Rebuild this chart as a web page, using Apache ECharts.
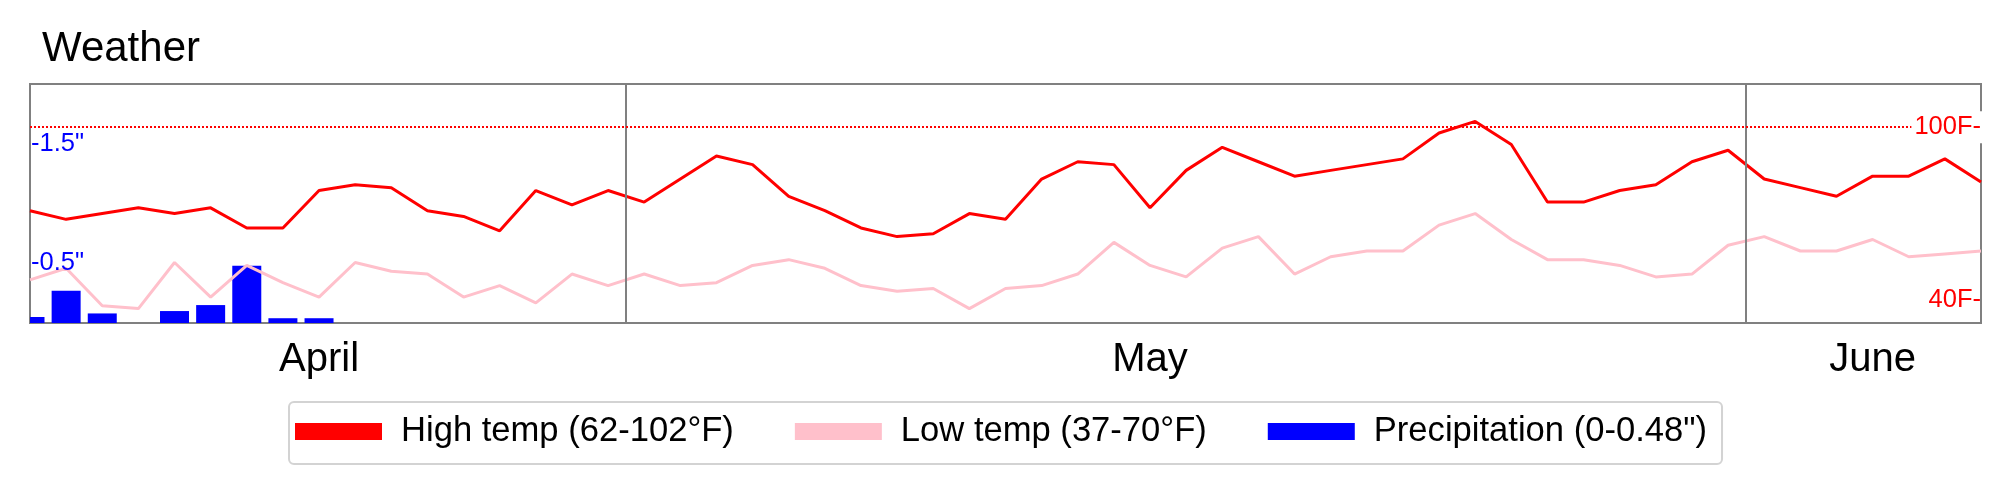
<!DOCTYPE html>
<html>
<head>
<meta charset="utf-8">
<script src="https://cdn.jsdelivr.net/npm/echarts@6/dist/echarts.min.js"></script>
<style>
  html, body { margin: 0; padding: 0; background: #fff; }
  #chart { width: 2010px; height: 492px; }
</style>
</head>
<body>
<div id="chart"></div>
<script>
// ---- Data ----
const days = [
  '04-14','04-15','04-16','04-17','04-18','04-19','04-20','04-21','04-22','04-23',
  '04-24','04-25','04-26','04-27','04-28','04-29','04-30',
  '05-01','05-02','05-03','05-04','05-05','05-06','05-07','05-08','05-09','05-10',
  '05-11','05-12','05-13','05-14','05-15','05-16','05-17','05-18','05-19','05-20',
  '05-21','05-22','05-23','05-24','05-25','05-26','05-27','05-28','05-29','05-30','05-31',
  '06-01','06-02','06-03','06-04','06-05','06-06','06-07'
];
const highTemp = [
  71, 68, 70, 72, 70, 72, 65, 65, 78, 80,
  79, 71, 69, 64, 78, 73, 78,
  74, 82, 90, 87, 76, 71, 65, 62, 63, 70,
  68, 82, 88, 87, 72, 85, 93, 88, 83, 85,
  87, 89, 98, 102, 94, 74, 74, 78, 80, 88, 92,
  82, 79, 76, 83, 83, 89, 81
];
const lowTemp = [
  47, 51, 38, 37, 53, 41, 52, 46, 41, 53,
  50, 49, 41, 45, 39, 49, 45,
  49, 45, 46, 52, 54, 51, 45, 43, 44, 37,
  44, 45, 49, 60, 52, 48, 58, 62, 49, 55,
  57, 57, 66, 70, 61, 54, 54, 52, 48, 49, 59,
  62, 57, 57, 61, 55, 56, 57
];
const precip = [
  0.05, 0.27, 0.08, 0, 0.10, 0.15, 0.48, 0.04, 0.04, 0,
  0, 0, 0, 0, 0, 0, 0,
  0, 0, 0, 0, 0, 0, 0, 0, 0, 0,
  0, 0, 0, 0, 0, 0, 0, 0, 0, 0,
  0, 0, 0, 0, 0, 0, 0, 0, 0, 0, 0,
  0, 0, 0, 0, 0, 0, 0
];
const monthNames = ['April', 'May', 'June'];
const monthLabelDays = ['04-22', '05-15', '06-04'];
const precipTicks = [0.5, 1.5];
const tempTicks = [40, 100];
const tempRefLine = 100;
const seriesNames = ['High temp (62-102°F)', 'Low temp (37-70°F)', 'Precipitation (0-0.48")'];

// ---- Derived ----
const highData = highTemp.map((v, i) => [i, v]);
const lowData = lowTemp.map((v, i) => [i, v]);
const precipData = precip.map((v, i) => [i, v]);
const monthBoundaries = [];
for (let i = 1; i < days.length; i++) {
  if (days[i].slice(0, 2) !== days[i - 1].slice(0, 2)) monthBoundaries.push(i - 0.5);
}
const monthLabelPos = monthLabelDays.map(d => days.indexOf(d));

const FONT = '"Liberation Sans", Arial, sans-serif';
const BAR_W = 29;

function renderBar(params, api) {
  const x = api.value(0), v = api.value(1);
  if (!v) return null;
  const p0 = api.coord([x, 0]);
  const p1 = api.coord([x, v]);
  const cs = params.coordSys;
  const rect = echarts.graphic.clipRectByRect(
    { x: p0[0] - BAR_W / 2, y: p1[1], width: BAR_W, height: p0[1] - p1[1] },
    { x: cs.x, y: cs.y, width: cs.width, height: cs.height }
  );
  if (!rect) return null;
  return { type: 'rect', shape: rect, style: api.style() };
}

const chart = echarts.init(document.getElementById('chart'), null, { renderer: 'canvas' });
chart.setOption({
  animation: false,
  backgroundColor: '#fff',
  textStyle: { fontFamily: FONT },
  title: {
    text: 'Weather',
    left: 37, top: 23,
    textStyle: { fontSize: 42, fontWeight: 'normal', color: '#000', fontFamily: FONT }
  },
  legend: {
    left: 289, top: 402,
    padding: [12, 15, 15, 6],
    borderColor: '#d3d3d3', borderWidth: 2, borderRadius: 5,
    itemWidth: 87, itemHeight: 17, itemGap: 61,
    icon: 'rect',
    textStyle: { fontSize: 34.6, color: '#000', fontFamily: FONT, padding: [0, 0, 0, 14] },
    data: seriesNames
  },
  grid: {
    left: 30, right: 29, top: 84, bottom: 169,
    show: true, borderColor: '#808080', borderWidth: 2, backgroundColor: 'transparent',
    containLabel: false
  },
  xAxis: {
    type: 'value', min: 0, max: days.length - 1,
    axisLine: { show: false }, axisTick: { show: false }, splitLine: { show: false },
    axisLabel: {
      customValues: monthLabelPos,
      formatter: v => monthNames[monthLabelPos.indexOf(v)] || '',
      fontSize: 40, color: '#000', margin: 17, fontFamily: FONT
    }
  },
  yAxis: [
    {
      type: 'value', position: 'left', min: 0, max: 2, z: 10,
      axisLine: { show: false }, axisTick: { show: false }, splitLine: { show: false },
      axisLabel: {
        inside: true, margin: 1,
        customValues: precipTicks,
        formatter: v => '-' + v + '"',
        fontSize: 25.5, color: '#0000ff', fontFamily: FONT
      }
    },
    {
      type: 'value', position: 'right', min: 32, max: 115, z: 10,
      axisLine: { show: false }, axisTick: { show: false }, splitLine: { show: false },
      axisLabel: {
        inside: true, margin: -2,
        customValues: tempTicks,
        formatter: v => v === tempRefLine ? '{w|' + v + 'F-}' : '{n|' + v + 'F-}',
        rich: {
          w: { fontSize: 25.5, color: '#ff0000', backgroundColor: '#fff', padding: [3, 2, 3, 3], fontFamily: FONT },
          n: { fontSize: 25.5, color: '#ff0000', padding: [0, 2, 0, 0], fontFamily: FONT }
        }
      }
    }
  ],
  series: [
    {
      name: seriesNames[2], type: 'custom', yAxisIndex: 0, data: precipData,
      renderItem: renderBar,
      encode: { x: 0, y: 1 },
      itemStyle: { color: '#0000ff' }, z: 2,
      markLine: {
        silent: true, symbol: 'none', label: { show: false },
        lineStyle: { color: '#808080', width: 2, type: 'solid' },
        data: monthBoundaries.map(b => ({ xAxis: b }))
      }
    },
    {
      name: seriesNames[1], type: 'line', yAxisIndex: 1, data: lowData,
      showSymbol: false, symbol: 'none', lineStyle: { color: '#ffc0cb', width: 3 },
      itemStyle: { color: '#ffc0cb' }, z: 3
    },
    {
      name: seriesNames[0], type: 'line', yAxisIndex: 1, data: highData,
      showSymbol: false, symbol: 'none', lineStyle: { color: '#ff0000', width: 3 },
      itemStyle: { color: '#ff0000' }, z: 4,
      markLine: {
        silent: true, symbol: 'none', label: { show: false },
        lineStyle: { color: '#ff0000', width: 2, type: [2, 2] },
        data: [{ yAxis: tempRefLine }]
      }
    }
  ]
});
</script>
</body>
</html>
